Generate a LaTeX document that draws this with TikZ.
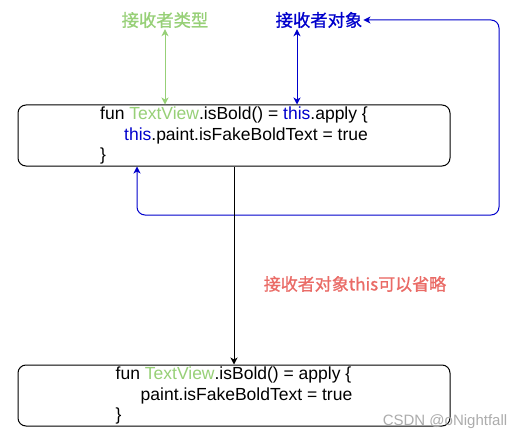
\documentclass[tikz,border=0pt]{standalone}
\usepackage{fontspec}
\setmainfont{Liberation Sans}
\newfontfamily\cjk{Noto Sans CJK SC}[FakeBold=1]
\usetikzlibrary{arrows.meta}
\definecolor{dgreen}{HTML}{97D077}
\definecolor{dblue}{HTML}{0000CC}
\definecolor{dred}{HTML}{EA6B66}
\begin{document}
\begin{tikzpicture}[x=1pt,y=-1pt,
  codebox/.style={draw, line width=1pt, rounded corners=8pt, minimum width=432pt, minimum height=61pt, align=left, inner sep=0pt, font=\fontsize{17.5}{20.5}\selectfont},
  lbl/.style={inner sep=1pt, font=\cjk\fontsize{17.3}{20}\selectfont},
  conn/.style={line width=1pt, arrows={-Stealth[length=7pt,width=7pt,inset=2pt]}},
  dconn/.style={line width=1pt, arrows={Stealth[length=7pt,width=7pt,inset=2pt]-Stealth[length=7pt,width=7pt,inset=2pt]}}]
\fill[white] (0,0) rectangle (532,441);
\useasboundingbox (0,0) rectangle (532,441);
\node[codebox] (top) at (234,135.5) {fun \textcolor{dgreen}{TextView}.isBold() = \textcolor{dblue}{this}.apply \{\\
\hspace*{24pt}\textcolor{dblue}{this}.paint.isFakeBoldText = true\\
\}};
\node[codebox] (bot) at (234,395.5) {fun \textcolor{dgreen}{TextView}.isBold() = apply \{\\
\hspace*{25pt}paint.isFakeBoldText = true\\
\}};
\node[lbl, text=dgreen] (typ) at (165,20) {接收者类型};
\node[lbl, text=dblue] (obj) at (319,20) {接收者对象};
\node[lbl, text=dred, font=\cjk\fontsize{17}{20}\selectfont] (omit) at (355,284) {接收者对象this可以省略};
\node[text=gray!65, inner sep=0pt, font=\fontsize{15}{18}\selectfont] (wm) at (445,422) {CSDN @oNightfall};
\coordinate (bx) at (297,0);
\coordinate (c1) at (137,215);
\coordinate (c2) at (499,215);
\draw[dconn, dgreen] (typ.south) -- (typ.south |- top.north);
\draw[dconn, dblue] (obj.south -| bx) -- (bx |- top.north);
\draw[dconn, dblue, rounded corners=8pt] (obj.east) -- (obj.east -| c2) -- (c2) -- (c1) -- (c1 |- top.south);
\draw[conn] (top.south) -- (bot.north);
\end{tikzpicture}
\end{document}
